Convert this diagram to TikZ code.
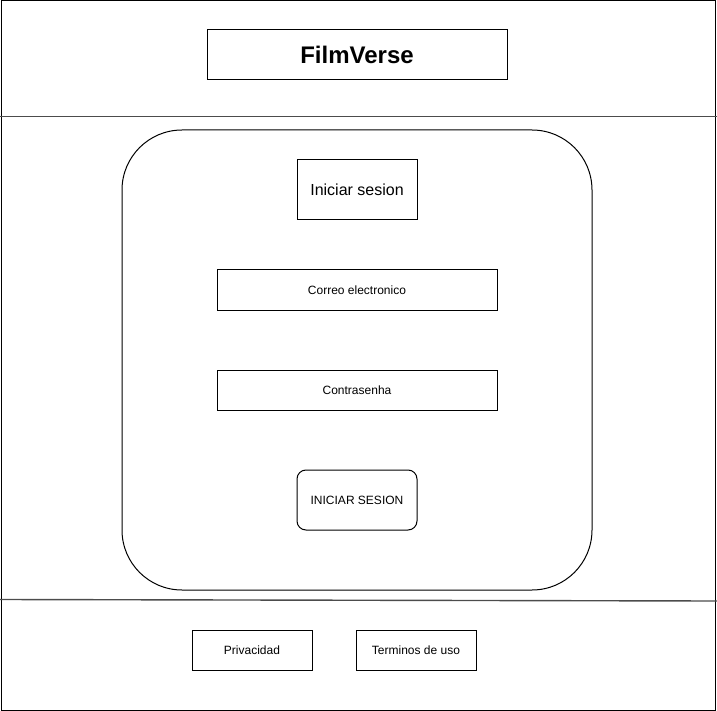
\documentclass[tikz,border=0pt]{standalone}
\usepackage{fontspec}
\setmainfont{Liberation Sans}
\usepackage{tikz}

\begin{document}
\begin{tikzpicture}[x=1pt,y=-1pt,line width=1pt,
	box/.style={draw=black,rectangle,inner sep=0pt},
	label/.style={font=\fontsize{12}{14}\selectfont},
	divider/.style={draw=black!70,line width=1.4pt}]
	\useasboundingbox (0,0) rectangle (717,711);
	\node [box,minimum width=714,minimum height=709] (frame) at (358,355.5) {};
	\draw [divider] (0,116.5) -- (717,116.5);
	\draw [divider] (0,599.5) -- (717,601);
	\node [box,minimum width=300,minimum height=50,font=\fontsize{24}{28}\selectfont\bfseries] (title) at (357,55) {FilmVerse};
	\node [box,rounded corners=60,minimum width=470,minimum height=460] (panel) at (357,360) {};
	\node [box,minimum width=120,minimum height=60,font=\fontsize{16}{19}\selectfont] (heading) at (357,190) {Iniciar sesion};
	\node [box,label,minimum width=280,minimum height=40] (email) at (357,290) {Correo electronico};
	\node [box,label,minimum width=280,minimum height=40] (password) at (357,390) {Contrasenha};
	\node [box,label,rounded corners=9,minimum width=120,minimum height=60] (login) at (357,500) {INICIAR SESION};
	\node [box,label,minimum width=120,minimum height=40] (privacy) at (252,650) {Privacidad};
	\node [box,label,minimum width=120,minimum height=40] (terms) at (416,650) {Terminos de uso};
\end{tikzpicture}
\end{document}
